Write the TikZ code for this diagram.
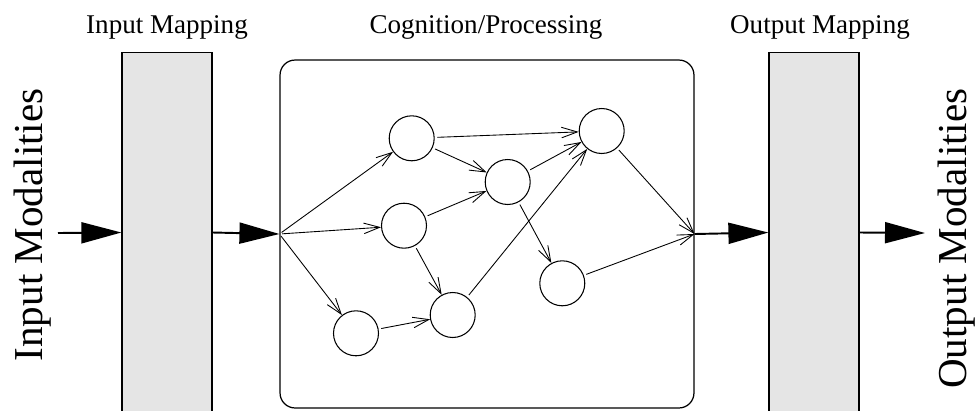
\documentclass[tikz,border=0pt]{standalone}
\usepackage{fontspec}
\setmainfont{Liberation Serif}
\usetikzlibrary{arrows.meta}
\definecolor{mapgray}{HTML}{E5E5E5}

\begin{document}
\begin{tikzpicture}[x=0.02cm, y=-0.02cm,
  map/.style = {draw, fill=mapgray, line width=0.7pt, minimum width=1.8cm, minimum height=7.2cm, inner sep=0pt},
  cog/.style = {draw, rounded corners=0.3cm, line width=0.7pt, minimum width=8.28cm, minimum height=6.96cm, inner sep=0pt},
  unit/.style = {draw, circle, minimum size=0.9cm, inner sep=0pt, line width=0.6pt},
  flow/.style = {line width=1.1pt, -{Triangle[length=0.8cm, width=0.42cm]}},
  link/.style = {line width=0.5pt, -{Straight Barb[length=9pt, width=6pt]}, shorten <=1.5pt},
  title/.style = {font=\fontsize{15.4}{18}\selectfont, anchor=base, inner sep=0pt},
  modal/.style = {font=\fontsize{23.4}{28}\selectfont, rotate=90, anchor=east, inner sep=0pt}]
\useasboundingbox (0,0) rectangle (975,410);

\node[map] (inmap) at (167,232.5) {};
\node[cog] (cog) at (487,234) {};
\node[map] (outmap) at (814,232.5) {};

\node[title] (tin) at (167,33) {Input Mapping};
\node[title] (tcog) at (486,33) {Cognition/Processing};
\node[title] (tout) at (820,33) {Output Mapping};

\node[modal] (min) at (32.5,88) {Input Modalities};
\node[modal] (mout) at (956.5,88) {Output Modalities};

% units inside the box
\node[unit] (a) at (411.7,138.3) {};
\node[unit] (b) at (404,225.7) {};
\node[unit] (c) at (356,333.3) {};
\node[unit] (d) at (507.7,182) {};
\node[unit] (e) at (452.7,315) {};
\node[unit] (f) at (601.7,131) {};
\node[unit] (g) at (562.3,283.3) {};

\coordinate (instart) at (58,233);
\coordinate (outend) at (925,233);

\draw[flow] (instart)--(inmap.west);
\draw[flow] (inmap.east)--(cog.west);
\draw[flow] (cog.east)--(outmap.west);
\draw[flow] (outmap.east)--(outend);

\draw[link] (cog.west)--(a); \draw[link] (cog.west)--(b); \draw[link] (cog.west)--(c);
\draw[link] (a)--(f); \draw[link] (a)--(d);
\draw[link] (b)--(d); \draw[link] (b)--(e);
\draw[link] (c)--(e);
\draw[link] (d)--(f); \draw[link] (d)--(g);
\draw[link] (e)--(f);
\draw[link] (f)--(cog.east); \draw[link] (g)--(cog.east);

\end{tikzpicture}
\end{document}
